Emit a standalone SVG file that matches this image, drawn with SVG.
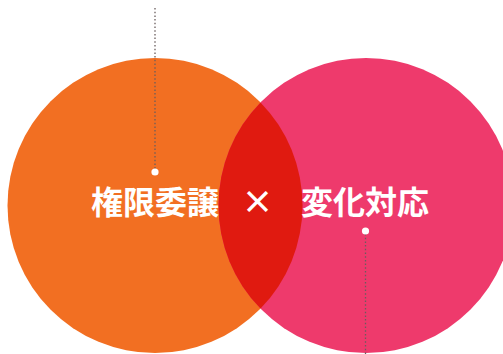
<svg xmlns="http://www.w3.org/2000/svg" width="503" height="354" viewBox="0 0 503 354">
  <style>
    .lbl { font-family: "Noto Sans CJK JP", "Noto Sans", sans-serif; font-weight: 700; fill: #ffffff; text-anchor: middle; }
    .lead { stroke: #6a5e5e; stroke-width: 1.3; stroke-dasharray: 1.5 2.2; fill: none; }
    .dot { fill: #ffffff; }
  </style>
  <rect width="503" height="354" fill="#ffffff"/>
  <g id="circle-left">
    <circle cx="155" cy="205.5" r="147.5" fill="#F26F22"/>
  </g>
  <g id="circle-right">
    <circle cx="366" cy="205.5" r="147.5" fill="#EE3A6C"/>
  </g>
  <g id="overlap">
    <path d="M260.5,102.4 A147.5,147.5 0 0 1 260.5,308.6 A147.5,147.5 0 0 1 260.5,102.4 Z" fill="#E01A10"/>
  </g>
  <g id="connectors">
    <line class="lead" x1="155" y1="8" x2="155" y2="170"/>
    <line class="lead" x1="365.5" y1="234" x2="365.5" y2="354"/>
    <circle class="dot" cx="155" cy="172" r="3.6"/>
    <circle class="dot" cx="365.5" cy="231" r="3.6"/>
  </g>
  <g id="label-left">
    <text class="lbl" x="155" y="214" font-size="32">権限委譲</text>
  </g>
  <g id="label-times">
    <text class="lbl" x="257.5" y="214" font-size="32">×</text>
  </g>
  <g id="label-right">
    <text class="lbl" x="365" y="214" font-size="32">変化対応</text>
  </g>
</svg>
